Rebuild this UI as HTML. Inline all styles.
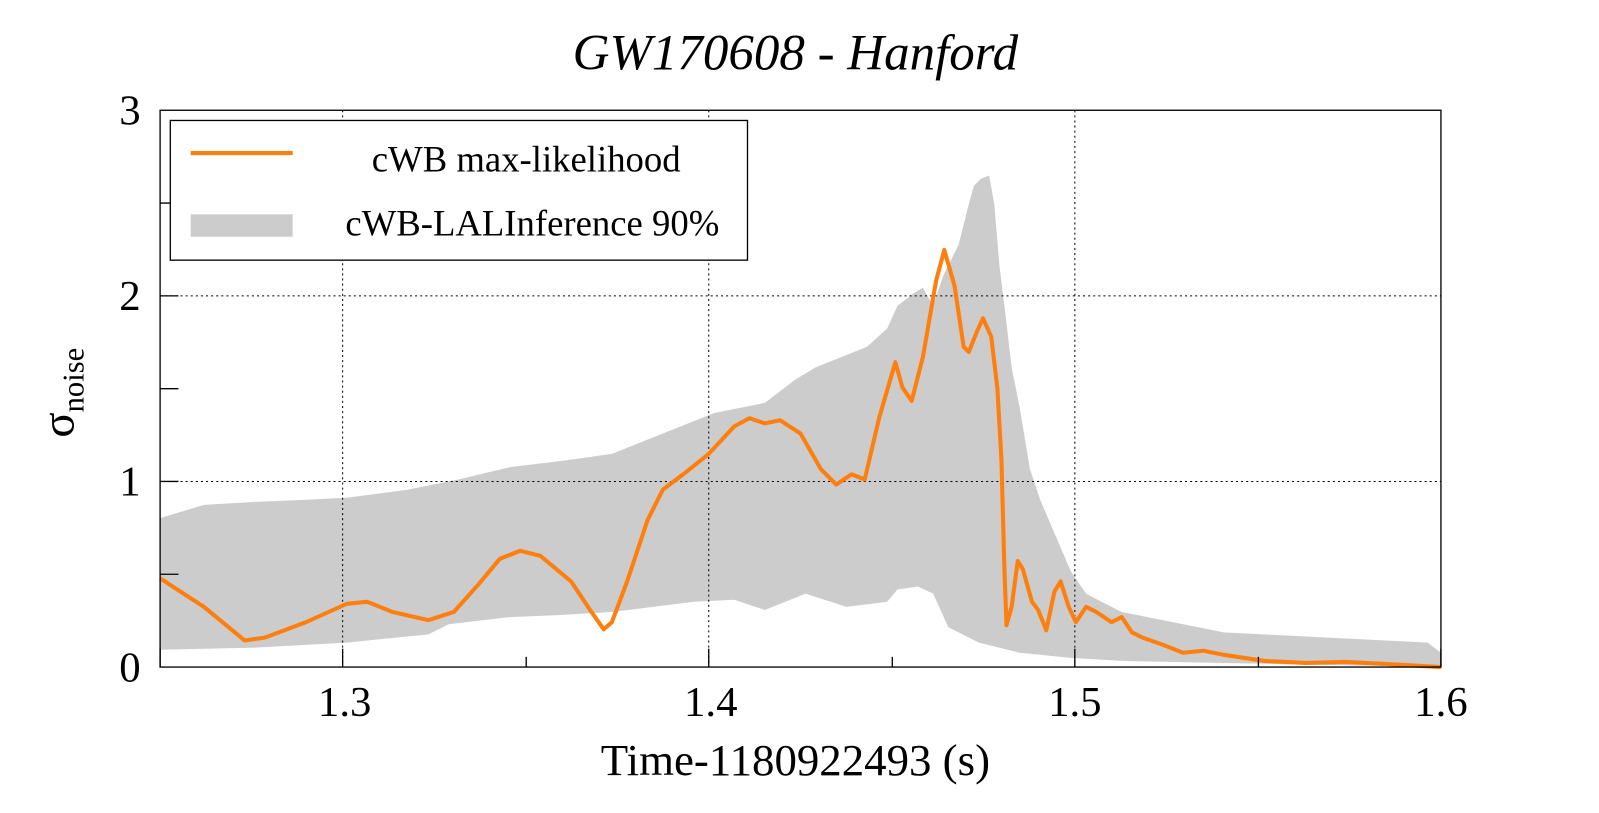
<!DOCTYPE html>
<html><head><meta charset="utf-8"><style>html,body{margin:0;padding:0;background:#fff}svg{display:block}</style></head>
<body>
<svg width="1599" height="813" viewBox="0 0 1568 797" xmlns="http://www.w3.org/2000/svg" font-family="Liberation Serif, serif">
<rect width="1568" height="797" fill="#fff"/>
<polygon fill="#cccccc" points="157,508 200,495 250,492 300,490 340,488 400,480 450,470 500,458 550,452 600,445 650,425 700,405 750,395 780,372 800,360 850,340 870,322 880,300 895,288 905,282 915,300 925,270 940,240 950,200 955,182 962,175 970,172 975,200 980,260 985,300 992,360 1000,400 1010,460 1020,490 1035,525 1050,560 1065,582 1080,590 1100,600 1150,610 1200,620 1300,625 1400,630 1413,640 1413,654 1300,652 1200,650 1100,648 1050,645 1000,640 960,630 930,615 915,582 900,575 880,578 870,590 830,595 790,582 750,598 720,588 680,590 600,600 550,603 500,605 440,612 420,622 340,630 250,635 157,637"/>
<g stroke="#000" stroke-width="1" stroke-dasharray="2,3">
<line x1="336" y1="108" x2="336" y2="654"/><line x1="695" y1="108" x2="695" y2="654"/><line x1="1054" y1="108" x2="1054" y2="654"/>
<line x1="157" y1="290" x2="1413" y2="290"/><line x1="157" y1="472" x2="1413" y2="472"/>
</g>
<polyline fill="none" stroke="#ff7f0e" stroke-width="4" stroke-linejoin="round" points="157,567 200,595 240,628 260,625 300,610 340,592 360,590 385,600 420,608 445,600 470,572 490,548 510,540 530,545 560,570 580,600 592,617 600,610 615,570 635,510 650,480 670,465 695,445 720,418 735,410 750,415 765,412 785,425 805,460 820,475 835,465 848,470 862,410 878,355 885,380 894,393 905,350 918,275 926,245 936,280 945,340 950,345 958,325 964,312 972,330 978,380 982,450 985,560 987,613 992,595 998,550 1003,558 1012,590 1018,598 1026,618 1034,580 1040,570 1048,595 1055,610 1065,595 1075,600 1090,610 1100,605 1110,620 1120,625 1140,632 1160,640 1180,638 1200,642 1240,648 1280,650 1320,649 1360,651 1413,654"/>
<rect x="157" y="108" width="1256" height="546" fill="none" stroke="#000" stroke-width="1.3"/>
<g stroke="#000" stroke-width="1.3">
<line x1="336" y1="654" x2="336" y2="636"/><line x1="695" y1="654" x2="695" y2="636"/><line x1="1054" y1="654" x2="1054" y2="636"/>
<line x1="157" y1="654" x2="157" y2="636"/><line x1="1413" y1="654" x2="1413" y2="636"/>
<line x1="516" y1="654" x2="516" y2="644"/><line x1="875" y1="654" x2="875" y2="644"/><line x1="1234" y1="654" x2="1234" y2="644"/>
<line x1="157" y1="563" x2="175" y2="563"/><line x1="157" y1="472" x2="175" y2="472"/><line x1="157" y1="381" x2="175" y2="381"/><line x1="157" y1="290" x2="175" y2="290"/><line x1="157" y1="199" x2="175" y2="199"/>
</g>
<rect x="167" y="118" width="566" height="137" fill="#fff" stroke="#000" stroke-width="1.3"/>
<line x1="187" y1="150" x2="287" y2="150" stroke="#ff7f0e" stroke-width="4"/>
<rect x="187" y="210" width="100" height="22" fill="#cccccc"/>
<g font-size="36" text-anchor="middle" fill="#000">
<text x="516" y="168">cWB max-likelihood</text>
<text x="522" y="231">cWB-LALInference 90%</text>
</g>
<text x="780" y="68" font-size="50" font-style="italic" text-anchor="middle">GW170608 - Hanford</text>
<g font-size="42" text-anchor="end">
<text x="138" y="122">3</text><text x="138" y="304">2</text><text x="138" y="486">1</text><text x="138" y="668">0</text>
</g>
<g font-size="42" text-anchor="middle">
<text x="338" y="702">1.3</text><text x="697" y="702">1.4</text><text x="1054" y="702">1.5</text><text x="1413" y="702">1.6</text>
</g>
<text x="780" y="760" font-size="44" text-anchor="middle">Time-1180922493 (s)</text>
<text transform="translate(72,385) rotate(-90)" font-size="46" text-anchor="middle">σ<tspan font-size="30" dy="10">noise</tspan></text>
</svg>
</body></html>
